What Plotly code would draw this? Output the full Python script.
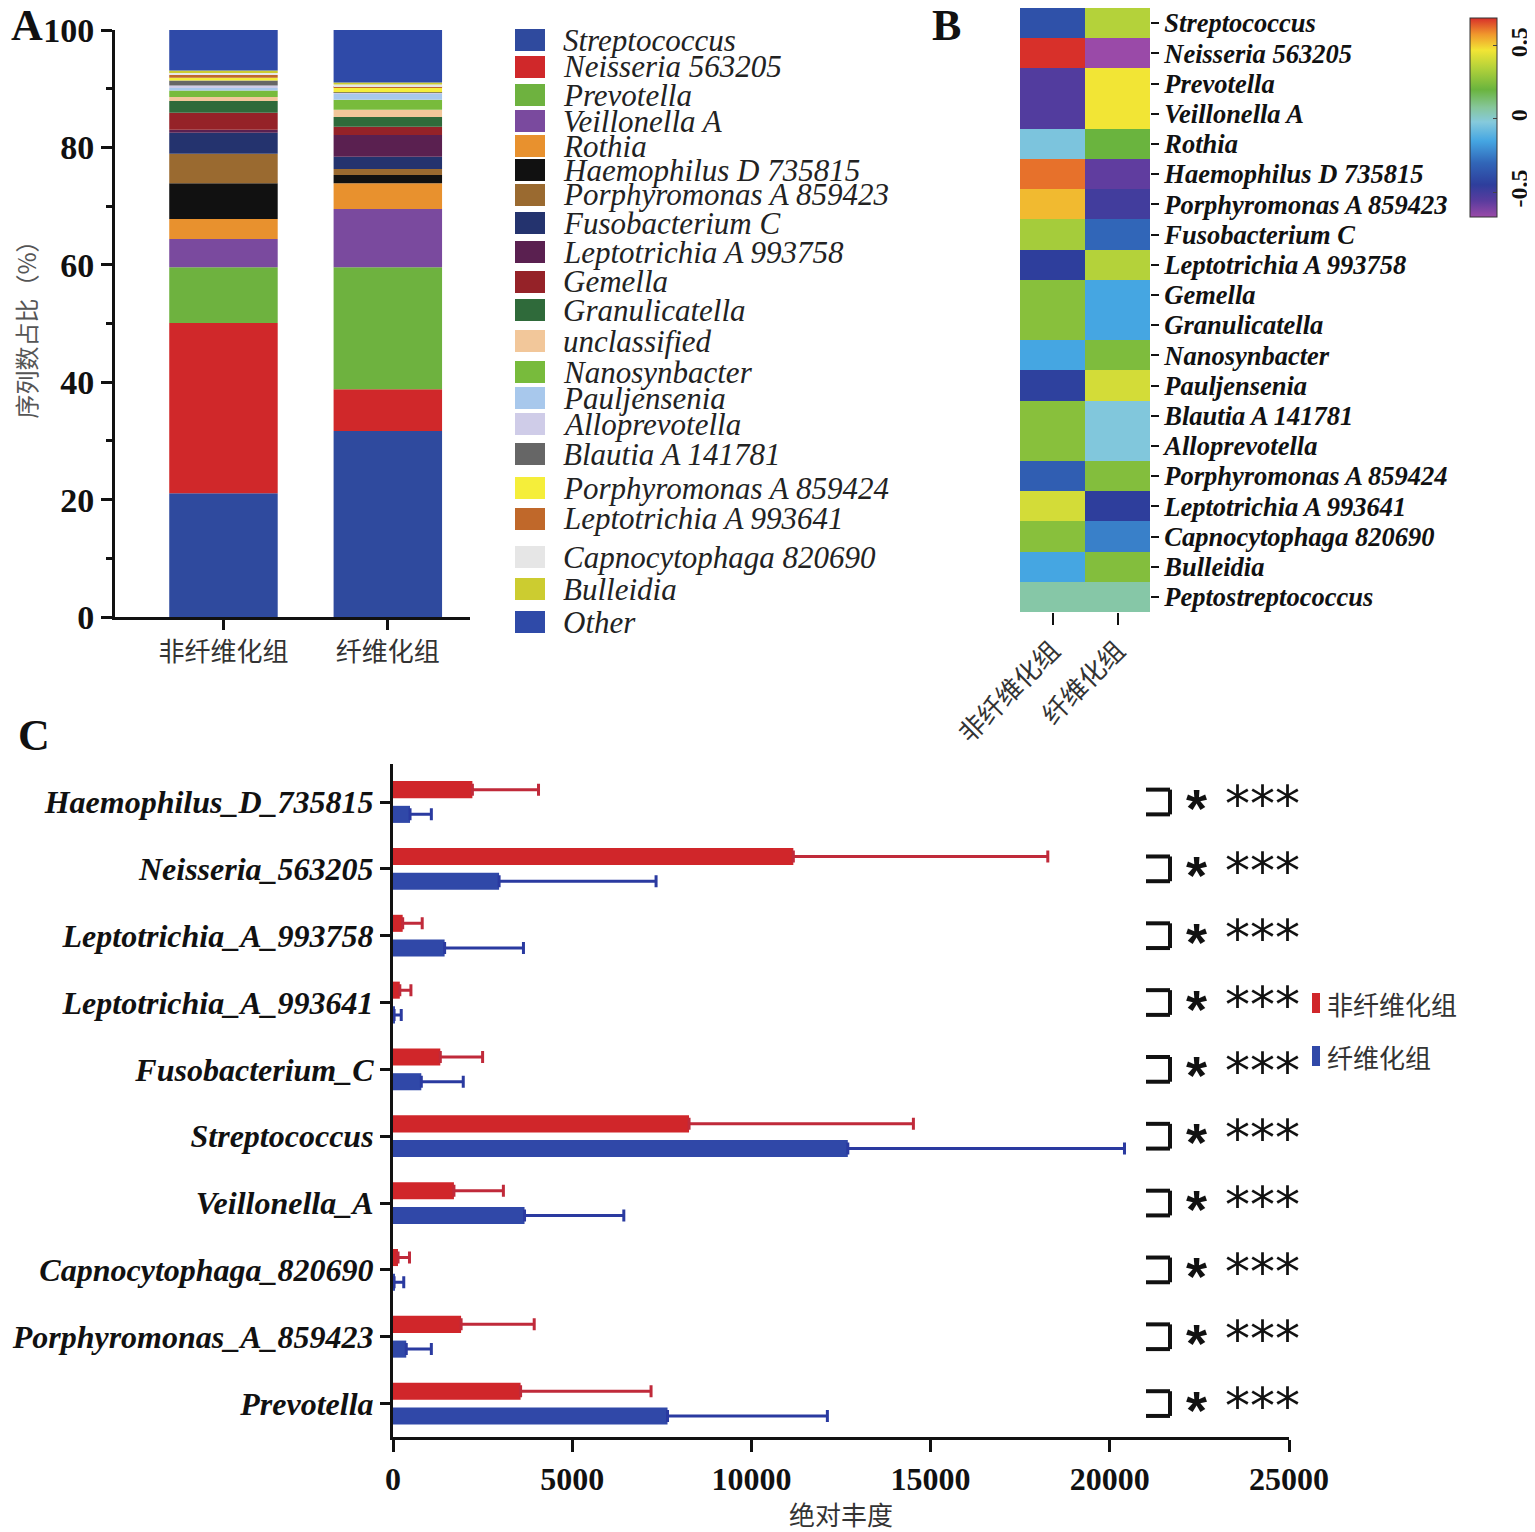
import numpy as np
import plotly.graph_objects as go

OFF = 8  # page margin of the browser body
W, H = 1535 - OFF, 1532 - OFF
SERIF = "Liberation Serif"
CJK = "Noto Sans CJK SC"

# ---------------- data ----------------
groups = ["非纤维化组", "纤维化组"]

# panel A: relative abundance (%)
taxa_a = ["Streptococcus", "Neisseria 563205", "Prevotella", "Veillonella A", "Rothia",
          "Haemophilus D 735815", "Porphyromonas A 859423", "Fusobacterium C",
          "Leptotrichia A 993758", "Gemella", "Granulicatella", "unclassified",
          "Nanosynbacter", "Pauljensenia", "Alloprevotella", "Blautia A 141781",
          "Porphyromonas A 859424", "Leptotrichia A 993641", "Capnocytophaga 820690",
          "Bulleidia", "Other"]
pct_nonfib = [21.1, 29.0, 9.5, 4.8, 3.4, 6.1, 5.0, 3.6, 0.5, 2.9, 2.0, 0.7, 1.1, 0.4,
              0.45, 0.85, 0.45, 0.5, 0.45, 0.3, 6.9]
pct_fib = [31.7, 7.1, 20.8, 9.9, 4.4, 1.4, 1.0, 2.1, 3.7, 1.4, 1.7, 1.2, 1.7, 1.0,
           0.2, 0.1, 0.75, 0.25, 0.3, 0.35, 8.95]
colors_a = ["#2f4a9e", "#d0282a", "#6eb23f", "#7a4a9e", "#e8912e", "#111111", "#9a6a30",
            "#24336e", "#5a2050", "#952228", "#2f6a3a", "#f2c79a", "#78bb3c", "#a8c8ec",
            "#cfcce8", "#666666", "#f5ee3a", "#c0682a", "#e6e6e6", "#cccc30", "#2f4aa8"]

# panel B: heatmap
taxa_b = ["Streptococcus", "Neisseria 563205", "Prevotella", "Veillonella A", "Rothia",
          "Haemophilus D 735815", "Porphyromonas A 859423", "Fusobacterium C",
          "Leptotrichia A 993758", "Gemella", "Granulicatella", "Nanosynbacter",
          "Pauljensenia", "Blautia A 141781", "Alloprevotella", "Porphyromonas A 859424",
          "Leptotrichia A 993641", "Capnocytophaga 820690", "Bulleidia", "Peptostreptococcus"]
z_nonfib = [-0.38, 0.69, -0.54, -0.54, -0.04, 0.62, 0.53, 0.32, -0.45, 0.26, 0.26, -0.15,
            -0.44, 0.26, 0.26, -0.33, 0.41, 0.26, -0.15, 0.06]
z_fib = [0.35, -0.67, 0.47, 0.47, 0.2, -0.57, -0.5, -0.3, 0.35, -0.15, -0.15, 0.24,
         0.41, -0.03, -0.03, 0.25, -0.45, -0.24, 0.25, 0.06]

# panel C: absolute abundance
taxa_c = ["Haemophilus_D_735815", "Neisseria_563205", "Leptotrichia_A_993758",
          "Leptotrichia_A_993641", "Fusobacterium_C", "Streptococcus", "Veillonella_A",
          "Capnocytophaga_820690", "Porphyromonas_A_859423", "Prevotella"]
mean_nonfib = [2215, 11170, 270, 190, 1320, 8260, 1700, 140, 1900, 3560]
upper_nonfib = [4060, 18270, 815, 500, 2500, 14520, 3080, 460, 3940, 7200]
mean_fib = [475, 2960, 1440, 30, 790, 12690, 3670, 30, 370, 7660]
upper_fib = [1070, 7340, 3640, 230, 1960, 20410, 6440, 300, 1070, 12120]
sig_left = ["*"] * 10
sig_right = ["***"] * 10


def px(x):
    return (x - OFF) / W


def py(y):
    return 1 - (y - OFF) / H


def dom(a, b):
    return [max(0.0, min(1.0, a)), max(0.0, min(1.0, b))]


fig = go.Figure()

# ---------------- panel A ----------------
base_nf = np.concatenate([[0], np.cumsum(pct_nonfib)[:-1]])
base_f = np.concatenate([[0], np.cumsum(pct_fib)[:-1]])
for i, name in enumerate(taxa_a):
    fig.add_trace(go.Bar(
        x=groups, y=[pct_nonfib[i], pct_fib[i]], base=[base_nf[i], base_f[i]],
        width=0.66, offset=-0.33, marker=dict(color=colors_a[i], line=dict(width=0)),
        name=name, showlegend=False, xaxis="x", yaxis="y"))

# manual legend for A
leg_y = [40, 67, 95, 121, 146, 170, 195, 223, 252, 282, 310, 341, 372, 398, 424, 454,
         488, 519, 557, 589, 622]
shapes = []
annotations = []
for i, name in enumerate(taxa_a):
    shapes.append(dict(type="rect", xref="paper", yref="paper",
                       x0=px(515), x1=px(545), y0=py(leg_y[i] + 11), y1=py(leg_y[i] - 11),
                       fillcolor=colors_a[i], line=dict(width=0)))
    annotations.append(dict(xref="paper", yref="paper", x=px(561), y=py(leg_y[i]),
                            text=name, showarrow=False, xanchor="left", yanchor="middle",
                            font=dict(family=SERIF, size=31, style="italic", color="#222")))

# ---------------- panel B ----------------
stops = [(-0.67, "#9a4aa8"), (-0.56, "#5a3c9e"), (-0.45, "#2e3e9c"), (-0.3, "#3166b8"),
         (-0.15, "#45a6e2"), (-0.02, "#86cadc"), (0.08, "#86c69a"), (0.2, "#6ab43e"),
         (0.35, "#b4d23a"), (0.47, "#f2e535"), (0.58, "#f0962c"), (0.69, "#d8302a")]
zmin, zmax = -0.67, 0.69
colorscale = [[(v - zmin) / (zmax - zmin), c] for v, c in stops]
zmat = [[a, b] for a, b in zip(z_nonfib, z_fib)]
fig.add_trace(go.Heatmap(
    z=zmat, x=groups, y=taxa_b, zmin=zmin, zmax=zmax, colorscale=colorscale,
    xaxis="x2", yaxis="y2",
    colorbar=dict(x=px(1470), xanchor="left", y=py(117.5), yanchor="middle", xpad=0, ypad=0,
                  len=199 / H, lenmode="fraction", thickness=27, outlinewidth=1,
                  outlinecolor="#333", tickvals=[-0.5, 0, 0.5], ticktext=["-0.5", "0", "0.5"],
                  ticks="inside", ticklen=4, tickangle=-90,
                  tickfont=dict(family=SERIF, size=24, weight="bold", color="#111"))))

# ---------------- panel C ----------------
err_nf = [u - m for u, m in zip(upper_nonfib, mean_nonfib)]
err_f = [u - m for u, m in zip(upper_fib, mean_fib)]
fig.add_trace(go.Bar(
    y=taxa_c, x=mean_nonfib, orientation="h", name="非纤维化组",
    marker=dict(color="#d0262a", line=dict(width=0)),
    error_x=dict(type="data", array=err_nf, arrayminus=[0] * 10, symmetric=False,
                 color="#c02a3a", thickness=3, width=6),
    showlegend=False, xaxis="x3", yaxis="y3"))
fig.add_trace(go.Bar(
    y=taxa_c, x=mean_fib, orientation="h", name="纤维化组",
    marker=dict(color="#3048a8", line=dict(width=0)),
    error_x=dict(type="data", array=err_f, arrayminus=[0] * 10, symmetric=False,
                 color="#2a3aa0", thickness=3, width=6),
    showlegend=False, xaxis="x3", yaxis="y3"))

bx0, bx1 = 21010, 21680
for i in range(len(taxa_c)):
    for (xa, ya, xb, yb) in [(bx0, i - 0.185, bx1, i - 0.185), (bx1, i - 0.185, bx1, i + 0.185),
                             (bx0, i + 0.185, bx1, i + 0.185)]:
        shapes.append(dict(type="line", xref="x3", yref="y3", x0=xa, y0=ya, x1=xb, y1=yb,
                           line=dict(color="#111", width=4)))
    annotations.append(dict(xref="x3", yref="y3", x=22430, y=i, text=sig_left[i],
                            showarrow=False, yshift=-6,
                            font=dict(family="Liberation Sans", size=54, weight="bold",
                                      color="#111")))
    annotations.append(dict(xref="x3", yref="y3", x=24270, y=i, text=sig_right[i],
                            showarrow=False, yshift=-2,
                            font=dict(family="DejaVu Sans", size=50, color="#111")))

# legend for C
for yc, col, txt in [(1003, "#d0262a", "非纤维化组"), (1056, "#3048a8", "纤维化组")]:
    shapes.append(dict(type="rect", xref="paper", yref="paper", x0=px(1312), x1=px(1320),
                       y0=py(yc + 10), y1=py(yc - 10), fillcolor=col, line=dict(width=0)))
    annotations.append(dict(xref="paper", yref="paper", x=px(1325), y=py(yc), text=txt,
                            showarrow=False, xanchor="left", yanchor="middle",
                            font=dict(family=CJK, size=26, color="#333")))

# panel letters
for lx, ly, lt in [(9, 25, "A"), (930, 25, "B"), (16, 735, "C")]:
    annotations.append(dict(xref="paper", yref="paper", x=px(lx), y=py(ly), text=lt,
                            showarrow=False, xanchor="left", yanchor="middle",
                            font=dict(family=SERIF, size=44, weight="bold", color="#111")))

axis_common = dict(showgrid=False, zeroline=False, linecolor="#111", tickcolor="#111",
                   automargin=False)

fig.update_layout(
    width=W, height=H, margin=dict(l=0, r=0, t=0, b=0, autoexpand=False),
    paper_bgcolor="white", plot_bgcolor="white",
    barmode="group", bargap=0.26, bargroupgap=0.31,
    xaxis=dict(domain=dom(px(115), px(470)), anchor="y", type="category", range=[-0.66, 1.5],
               showline=True, linewidth=3, ticks="outside", ticklen=10, tickwidth=3,
               tickfont=dict(family=CJK, size=26, color="#333"), **axis_common),
    yaxis=dict(domain=dom(py(617), py(30)), anchor="x", range=[0, 100], dtick=20,
               showline=True, linewidth=3, ticks="outside", ticklen=11, tickwidth=3,
               minor=dict(dtick=10, ticks="outside", ticklen=6, tickwidth=3,
                          tickcolor="#111"),
               tickfont=dict(family=SERIF, size=34, weight="bold", color="#111"),
               title=dict(text="序列数占比（%）", font=dict(family=CJK, size=24, color="#555"),
                          standoff=14), **axis_common),
    xaxis2=dict(domain=dom(px(1020), px(1150)), anchor="y2", ticks="outside", ticklen=12,
                tickwidth=2, tickangle=-45, showline=False,
                tickfont=dict(family=CJK, size=26, color="#333"), **axis_common),
    yaxis2=dict(domain=dom(py(612), py(6)), anchor="x2", side="right", autorange="reversed",
                tickmode="array", tickvals=taxa_b,
                ticks="outside", ticklen=8, tickwidth=2, showline=False,
                tickfont=dict(family=SERIF, size=26.5, weight="bold", style="italic",
                              color="#111"), **axis_common),
    xaxis3=dict(domain=dom(px(393), px(1289)), anchor="y3", range=[0, 25000], dtick=5000,
                tickformat="d",
                showline=True, linewidth=3, ticks="outside", ticklen=12, tickwidth=3,
                tickfont=dict(family=SERIF, size=32, weight="bold", color="#111"),
                title=dict(text="绝对丰度", font=dict(family=CJK, size=26, color="#333"),
                           standoff=8), **axis_common),
    yaxis3=dict(domain=dom(py(1437), py(764)), anchor="x3", autorange="reversed",
                type="category", showline=True, linewidth=3, ticks="outside", ticklen=10,
                tickwidth=3,
                tickfont=dict(family=SERIF, size=32, weight="bold", style="italic",
                              color="#111"), **axis_common),
    shapes=shapes, annotations=annotations,
)

fig.write_html("out.html")
